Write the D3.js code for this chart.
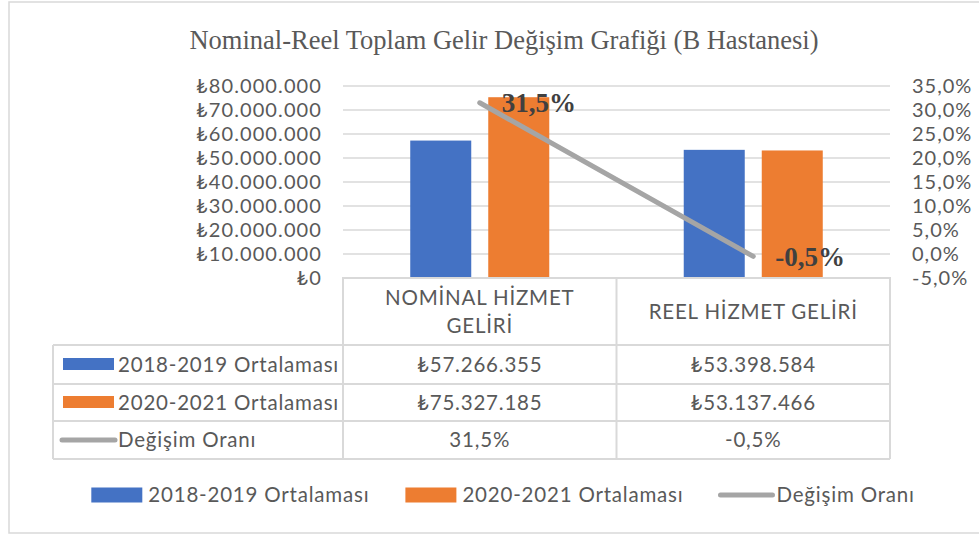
<!DOCTYPE html>
<html><head><meta charset="utf-8">
<script src="https://cdn.jsdelivr.net/npm/d3@7"></script>
<style>
html,body{margin:0;padding:0;background:#fff;}
svg{display:block;}
</style></head>
<body>
<svg id="chart" width="979" height="536"></svg>
<script>
const title = "Nominal-Reel Toplam Gelir Değişim Grafiği (B Hastanesi)";
const categories = ["NOMİNAL HİZMET GELİRİ", "REEL HİZMET GELİRİ"];
const seriesNames = ["2018-2019 Ortalaması", "2020-2021 Ortalaması"];
const values2018_2019 = [57266355, 53398584];
const values2020_2021 = [75327185, 53137466];
const lineName = "Değişim Oranı";
const changeRate = [31.5, -0.5];
const leftTicks = [0, 10000000, 20000000, 30000000, 40000000, 50000000, 60000000, 70000000, 80000000];
const rightTicks = [-5, 0, 5, 10, 15, 20, 25, 30, 35];

const colors = ["#4472c4", "#ed7d31"];
const lineColor = "#a5a5a5";
const textColor = "#595959";
const gridColor = "#d9d9d9";
const sansFont = "Lato, 'Noto Sans', 'DejaVu Sans', sans-serif";
const serifFont = "'Liberation Serif', 'Times New Roman', serif";

const tr = d3.formatLocale({decimal: ",", thousands: ".", grouping: [3], currency: ["₺", ""], minus: "-"});
const fmtMoney = tr.format("$,.0f");
const fmtPct = v => tr.format(".1f")(v) + "%";

const svg = d3.select("#chart");

// outer frame
svg.append("rect").attr("x", 9).attr("y", 2).attr("width", 1000).attr("height", 531)
  .attr("fill", "none").attr("stroke", gridColor).attr("stroke-width", 1.5);

// title
svg.append("text").attr("x", 504).attr("y", 49).attr("text-anchor", "middle")
  .attr("font-family", serifFont).attr("font-size", 26.5).attr("fill", textColor).text(title);

const plot = {left: 343, right: 890, top: 86, bottom: 278};
const x = d3.scaleBand().domain(categories).range([plot.left, plot.right]);
const xs = d3.scaleBand().domain(seriesNames).range([0, x.bandwidth()]).paddingInner(0.218).paddingOuter(0.862);
const yL = d3.scaleLinear().domain([0, 80000000]).range([plot.bottom, plot.top]);
const yR = d3.scaleLinear().domain([-5, 35]).range([plot.bottom, plot.top]);

// gridlines
svg.append("g").selectAll("line").data(leftTicks.filter(t => t > 0)).join("line")
  .attr("x1", plot.left).attr("x2", plot.right)
  .attr("y1", d => yL(d)).attr("y2", d => yL(d))
  .attr("stroke", gridColor).attr("stroke-width", 1.5);

// left axis
const axL = d3.axisLeft(yL).tickValues(leftTicks).tickFormat(fmtMoney).tickSize(0).tickPadding(0);
const gL = svg.append("g").attr("transform", `translate(${plot.left - 21},0)`).call(axL);
gL.select(".domain").remove();
gL.selectAll("text").attr("font-family", sansFont).attr("font-size", 20).attr("letter-spacing", 1.1).attr("fill", textColor);

// right axis
const axR = d3.axisRight(yR).tickValues(rightTicks).tickFormat(fmtPct).tickSize(0).tickPadding(0);
const gR = svg.append("g").attr("transform", `translate(${plot.right + 22},0)`).call(axR);
gR.select(".domain").remove();
gR.selectAll("text").attr("font-family", sansFont).attr("font-size", 20).attr("letter-spacing", 1).attr("fill", textColor);

// bars
const seriesData = [values2018_2019, values2020_2021];
seriesNames.forEach((s, si) => {
  svg.append("g").selectAll("rect").data(categories).join("rect")
    .attr("x", c => x(c) + xs(s))
    .attr("width", xs.bandwidth())
    .attr("y", (c, i) => yL(seriesData[si][i]))
    .attr("height", (c, i) => yL(0) - yL(seriesData[si][i]))
    .attr("fill", colors[si]);
});

// line
const line = d3.line().x((d, i) => x(categories[i]) + x.bandwidth() / 2).y(d => yR(d));
svg.append("path").datum(changeRate).attr("d", line)
  .attr("fill", "none").attr("stroke", lineColor).attr("stroke-width", 5).attr("stroke-linecap", "round");

// data labels
svg.append("g").selectAll("text").data(changeRate).join("text")
  .attr("x", (d, i) => x(categories[i]) + x.bandwidth() / 2 + 22)
  .attr("y", d => yR(d)).attr("dy", "0.35em")
  .attr("font-family", serifFont).attr("font-weight", "bold").attr("font-size", 27)
  .attr("fill", "#404040").text(d => fmtPct(d));

// data table
const tableLeft = 53;
const rows = [345, 384, 421, 459];
const tg = svg.append("g").attr("stroke", gridColor).attr("stroke-width", 2).attr("fill", "none");
tg.append("path").attr("d", `M${plot.left},${rows[0]}V${plot.bottom}H${plot.right}V${rows[3]}`);
rows.forEach(r => tg.append("line").attr("x1", tableLeft).attr("x2", plot.right).attr("y1", r).attr("y2", r));
tg.append("line").attr("x1", tableLeft).attr("x2", tableLeft).attr("y1", rows[0]).attr("y2", rows[3]);
tg.append("line").attr("x1", plot.left).attr("x2", plot.left).attr("y1", rows[0]).attr("y2", rows[3]);
tg.append("line").attr("x1", x(categories[1])).attr("x2", x(categories[1])).attr("y1", plot.bottom).attr("y2", rows[3]);

const tfont = 20.5;
const tls = 0.8;
// header labels with wrapping
categories.forEach(c => {
  const t = svg.append("text").attr("font-family", sansFont).attr("font-size", tfont).attr("letter-spacing", tls)
    .attr("fill", textColor).attr("text-anchor", "middle");
  const words = c.split(" ");
  const lines = [];
  let cur = [];
  words.forEach(w => {
    cur.push(w);
    t.text(cur.join(" "));
    if (t.node().getComputedTextLength() > 235 && cur.length > 1) {
      cur.pop(); lines.push(cur.join(" ")); cur = [w];
    }
  });
  lines.push(cur.join(" "));
  t.text(null);
  const cy = (plot.bottom + rows[0]) / 2;
  const lh = 28;
  lines.forEach((ln, i) => {
    t.append("tspan").attr("x", x(c) + x.bandwidth() / 2)
      .attr("y", cy + (i - (lines.length - 1) / 2) * lh).attr("dy", "0.35em").text(ln);
  });
});

const tableRows = [
  {name: seriesNames[0], vals: values2018_2019.map(fmtMoney), key: "rect", color: colors[0]},
  {name: seriesNames[1], vals: values2020_2021.map(fmtMoney), key: "rect", color: colors[1]},
  {name: lineName, vals: changeRate.map(fmtPct), key: "line", color: lineColor}
];
tableRows.forEach((r, ri) => {
  const cy = (rows[ri] + rows[ri + 1]) / 2;
  if (r.key === "rect") {
    svg.append("rect").attr("x", 63).attr("y", cy - 6.5).attr("width", 51).attr("height", 12).attr("fill", r.color);
  } else {
    svg.append("line").attr("x1", 62).attr("x2", 115).attr("y1", cy).attr("y2", cy)
      .attr("stroke", r.color).attr("stroke-width", 5).attr("stroke-linecap", "round");
  }
  svg.append("text").attr("x", 118).attr("y", cy).attr("dy", "0.35em")
    .attr("font-family", sansFont).attr("font-size", tfont).attr("letter-spacing", tls).attr("fill", textColor).text(r.name);
  r.vals.forEach((v, i) => {
    svg.append("text").attr("x", x(categories[i]) + x.bandwidth() / 2).attr("y", cy).attr("dy", "0.35em")
      .attr("text-anchor", "middle").attr("font-family", sansFont).attr("font-size", tfont).attr("letter-spacing", tls)
      .attr("fill", textColor).text(v);
  });
});

// bottom legend
const legendItems = [
  {name: seriesNames[0], key: "rect", color: colors[0]},
  {name: seriesNames[1], key: "rect", color: colors[1]},
  {name: lineName, key: "line", color: lineColor}
];
const lg = svg.append("g");
let lx = 0;
const ly = 495;
const lgap = 36;
legendItems.forEach((it, i) => {
  if (it.key === "rect") {
    lg.append("rect").attr("x", lx).attr("y", ly - 7.5).attr("width", 51).attr("height", 15).attr("fill", it.color);
  } else {
    lg.append("line").attr("x1", lx + 1).attr("x2", lx + 53).attr("y1", ly).attr("y2", ly)
      .attr("stroke", it.color).attr("stroke-width", 5).attr("stroke-linecap", "round");
  }
  const t = lg.append("text").attr("x", lx + 57).attr("y", ly).attr("dy", "0.35em")
    .attr("font-family", sansFont).attr("font-size", tfont).attr("letter-spacing", tls).attr("fill", textColor).text(it.name);
  lx += 57 + t.node().getComputedTextLength() + lgap;
});
const lw = lx - lgap;
lg.attr("transform", `translate(${503 - lw / 2},0)`);
</script>
</body></html>
